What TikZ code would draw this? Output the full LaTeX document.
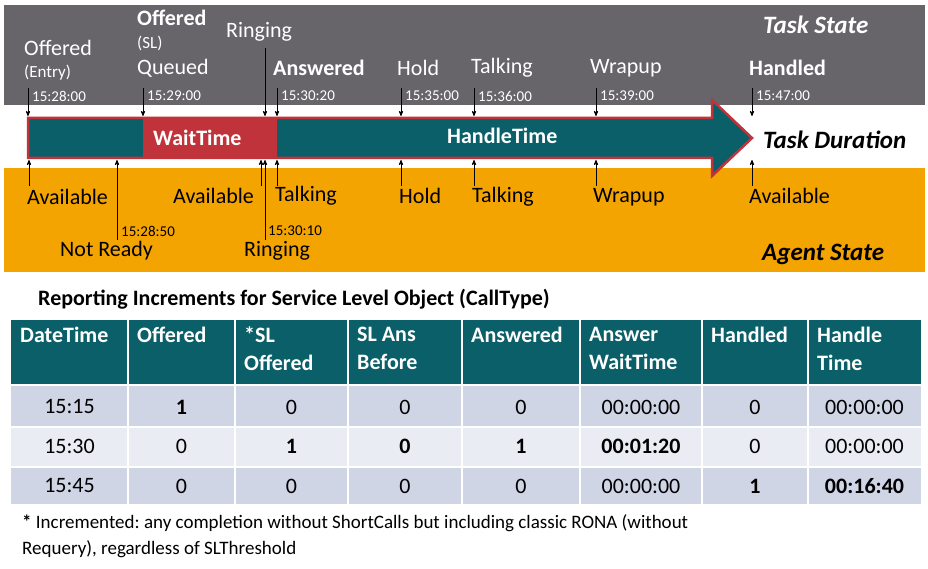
\documentclass[tikz,border=0pt]{standalone}
\usepackage{fontspec}
\setmainfont{Carlito}
\usepackage{tikz}
\usetikzlibrary{positioning,calc,arrows}

\definecolor{bandgray}{HTML}{67646A}
\definecolor{bandorange}{HTML}{F4A400}
\definecolor{durteal}{HTML}{0B5F69}
\definecolor{waitred}{HTML}{C1333A}
\definecolor{rowdark}{HTML}{CFD5E5}
\definecolor{rowlight}{HTML}{E9ECF2}

\tikzset{
    tlabel/.style={anchor=west, inner sep=0pt, text=white, font=\fontsize{22}{24}\selectfont},
    alabel/.style={anchor=west, inner sep=0pt, text=black, font=\fontsize{22}{24}\selectfont},
    tsmall/.style={anchor=west, inner sep=0pt, font=\fontsize{15}{17}\selectfont},
    stamp/.style={->, >=stealth', line width=0.8pt},
    hcell/.style={anchor=north west, inner sep=0pt, align=left, text=white, font=\bfseries\fontsize{22}{28}\selectfont},
    bcell/.style={inner sep=0pt, font=\fontsize{22}{24}\selectfont},
}

\begin{document}
\begin{tikzpicture}[x=1pt,y=-1pt]
        \useasboundingbox (0,0) rectangle (928,569);
        % bands
        \fill[bandgray] (4,5) rectangle (925,105);
        \fill[bandorange] (4,168) rectangle (925,272);
        \node[tlabel, font=\bfseries\itshape\fontsize{25}{27}\selectfont] (taskstate) at (763,25) {Task State};
        \node[alabel, font=\bfseries\itshape\fontsize{25}{27}\selectfont] (agentstate) at (762,254) {Agent State};

        % duration arrow
        \draw[fill=durteal, draw=waitred, line width=2.5pt, line join=miter]
            (28,118) -- (712,118) -- (712,100) -- (752,138) -- (712,176) -- (712,158) -- (28,158) -- cycle;
        \fill[waitred] (143,119) rectangle (277,157);
        \node[tlabel, font=\bfseries\fontsize{22}{24}\selectfont] (wait) at (153,138) {WaitTime};
        \node[tlabel, font=\bfseries\fontsize{22}{24}\selectfont] (handle) at (447,136) {HandleTime};
        \node[alabel, font=\bfseries\itshape\fontsize{25}{27}\selectfont] (duration) at (763,140) {Task Duration};

        % task state labels
        \node[tlabel] (offered) at (24,48) {Offered};
        \node[tlabel, font=\fontsize{17}{19}\selectfont] (entry) at (24,73) {(Entry)};
        \node[tlabel, font=\bfseries\fontsize{22}{24}\selectfont] (offeredsl) at (137,18) {Offered};
        \node[tlabel, font=\fontsize{17}{19}\selectfont] (sl) at (137,43) {(SL)};
        \node[tlabel] (queued) at (137,68) {Queued};
        \node[tlabel] (tring) at (226,32) {Ringing};
        \node[tlabel, font=\bfseries\fontsize{22}{24}\selectfont] (answered) at (273,68) {Answered};
        \node[tlabel] (thold) at (397,68) {Hold};
        \node[tlabel] (ttalk) at (471,68) {Talking};
        \node[tlabel] (twrap) at (590,68) {Wrapup};
        \node[tlabel, font=\bfseries\fontsize{22}{24}\selectfont] (handled) at (749,68) {Handled};

        % task state time stamps
        \foreach \x/\t in {28/15:28:00, 143/15:29:00, 277/15:30:20, 401/15:35:00, 474/15:36:00, 596/15:39:00, 752/15:47:00}{
            \node[tsmall, text=white] (ts\x) at (\x+4,96) {\t};
            \coordinate (tt\x) at (\x,88);
            \coordinate (tb\x) at (\x,116);
            \draw[stamp] (tt\x) -- (tb\x);
        }
        \coordinate (ringtop) at (265,48);
        \coordinate (ringbot) at (265,116);
        \draw[stamp] (ringtop) -- (ringbot);

        % agent state labels
        \node[alabel] (avail1) at (27,197) {Available};
        \node[alabel] (avail2) at (173,196) {Available};
        \node[alabel] (atalk1) at (275,196) {Talking};
        \node[alabel] (ahold) at (399,196) {Hold};
        \node[alabel] (atalk2) at (472,197) {Talking};
        \node[alabel] (awrap) at (593,197) {Wrapup};
        \node[alabel] (avail3) at (749,196) {Available};
        \node[alabel] (notready) at (60,251) {Not Ready};
        \node[alabel] (aring) at (244,251) {Ringing};
        \node[tsmall] (nrtime) at (121,231) {15:28:50};
        \node[tsmall] (rtime) at (268,231) {15:30:10};

        % agent state stamps
        \foreach \x/\l in {29/186, 261/186, 277/186, 401/186, 474/186, 596/186, 752/186, 117/240, 265/240}{
            \coordinate (ab\x) at (\x,\l);
            \coordinate (at\x) at (\x,160);
            \draw[stamp] (ab\x) -- (at\x);
        }

        % table
        \node[anchor=west, inner sep=0pt, font=\bfseries\fontsize{22}{24}\selectfont] (title) at (38,299) {Reporting Increments for Service Level Object (CallType)};
        \fill[durteal] (11,320) rectangle (921,385);
        \fill[rowdark] (11,385) rectangle (921,427);
        \fill[rowlight] (11,427) rectangle (921,467);
        \fill[rowdark] (11,467) rectangle (921,504);
        \foreach \x in {128,235,348,462,580,702,808}{
            \draw[white, line width=1.5pt] (\x,320) -- (\x,504);
        }
        \foreach \y in {385,427,467}{
            \draw[white, line width=1.5pt] (11,\y) -- (921,\y);
        }
        \foreach \x/\h [count=\i] in {11/DateTime, 128/Offered, 235/{*SL\\Offered}, 348/{SL Ans\\Before}, 462/Answered, 580/{Answer\\WaitTime}, 702/Handled, 808/{Handle\\Time}}{
            \node[hcell] (head\i) at (\x+9,327) {\h};
        }
        \foreach \x/\v [count=\i] in {69.5/15:15, 181.5/\textbf{1}, 291.5/0, 405/0, 521/0, 641/00:00:00, 755/0, 864.5/00:00:00}{
            \node[bcell] (ra\i) at (\x,407) {\v};
        }
        \foreach \x/\v [count=\i] in {69.5/15:30, 181.5/0, 291.5/\textbf{1}, 405/\textbf{0}, 521/\textbf{1}, 641/\textbf{00:01:20}, 755/0, 864.5/00:00:00}{
            \node[bcell] (rb\i) at (\x,446) {\v};
        }
        \foreach \x/\v [count=\i] in {69.5/15:45, 181.5/0, 291.5/0, 405/0, 521/0, 641/00:00:00, 755/\textbf{1}, 864.5/\textbf{00:16:40}}{
            \node[bcell] (rc\i) at (\x,486) {\v};
        }

        % footnote
        \node[anchor=north west, inner sep=0pt, align=left, font=\fontsize{19}{26}\selectfont] (note) at (22,514)
            {\textbf{*} Incremented:\ any completion without ShortCalls but including classic RONA (without\\Requery), regardless of SLThreshold};
\end{tikzpicture}
\end{document}
